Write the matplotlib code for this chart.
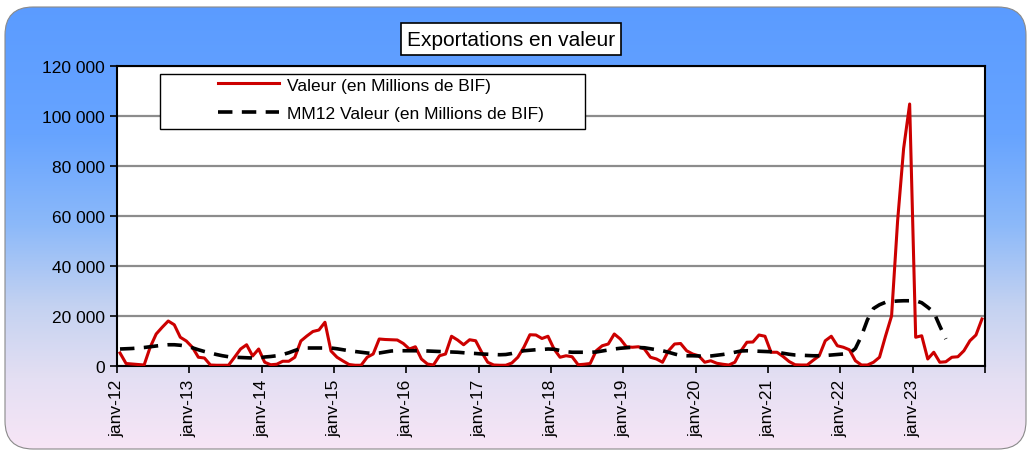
import numpy as np
import matplotlib.pyplot as plt
from matplotlib.patches import FancyBboxPatch, Rectangle
from matplotlib.colors import LinearSegmentedColormap
from matplotlib.ticker import FuncFormatter

plt.rcParams['font.family'] = ['Liberation Sans', 'DejaVu Sans']

# monthly exports, Jan 2012 .. Dec 2023 (millions BIF)
valeur = [
    5200, 1000, 800, 600, 400, 7500, 12800, 15500, 18000, 16500, 11500, 10000,
    7500, 3500, 3200, 400, 300, 300, 300, 3500, 6800, 8500, 4000, 6800,
    1500, 500, 700, 1900, 1900, 3500, 10000, 12000, 13800, 14400, 17500, 6000,
    3500, 2000, 600, 300, 300, 3500, 4800, 10800, 10600, 10500, 10400, 9000,
    6800, 7700, 2800, 800, 400, 4100, 4800, 11900, 10400, 8500, 10500, 10100,
    5500, 1500, 400, 300, 300, 1200, 3500, 7500, 12500, 12400, 11000, 11900,
    6800, 3500, 4100, 3700, 500, 700, 1000, 6100, 8100, 8800, 12800, 10800,
    7700, 7500, 7700, 6800, 3500, 2800, 1500, 6100, 8800, 9000, 6100, 4800,
    4100, 1500, 2100, 1100, 700, 400, 1500, 6000, 9500, 9600, 12400, 11900,
    5500, 5500, 3800, 1800, 500, 400, 400, 2300, 4100, 10100, 11900, 8100,
    7500, 6500, 2100, 400, 400, 1500, 3500, 12000, 20000, 58000, 87000, 104800,
    11500, 12100, 2800, 5500, 1500, 1700, 3500, 3700, 6100, 10100, 12400, 18800,
]

# 12-month moving average as drawn (stops mid-2023)
mm12 = [
    6800, 6900, 7000, 7200, 7400, 7700, 8000, 8300, 8500, 8500, 8300, 7900,
    7300, 6500, 5800, 5200, 4600, 4100, 3700, 3500, 3400, 3300, 3200, 3200,
    3600, 3800, 4100, 4600, 5300, 6200, 7000, 7200, 7200, 7200, 7200, 7200,
    6900, 6500, 6100, 5800, 5500, 5200, 5000, 5200, 5600, 6000, 6100, 6100,
    6100, 6100, 6100, 6000, 5900, 5800, 5700, 5600, 5500, 5300, 5100, 5000,
    4800, 4700, 4600, 4500, 4600, 5000, 5600, 6100, 6300, 6500, 6600, 6800,
    6700, 6200, 5700, 5500, 5500, 5500, 5500, 5600, 6000, 6400, 6800, 7100,
    7300, 7500, 7400, 7300, 6900, 6500, 6100, 5500, 4800, 4200, 4100, 4100,
    4000, 3800, 4000, 4300, 4600, 5000, 5500, 6000, 6100, 6000, 5900, 5800,
    5700, 5500, 5100, 4700, 4400, 4300, 4200, 4100, 4100, 4200, 4400, 4600,
    4800, 5000, 7000, 12000, 18500, 23000, 24500, 25500, 25800, 26000, 26100, 26100,
    26100, 25300, 23500, 21500, 16000, 10800,
]

year_labels = ['janv-12', 'janv-13', 'janv-14', 'janv-15', 'janv-16', 'janv-17',
               'janv-18', 'janv-19', 'janv-20', 'janv-21', 'janv-22', 'janv-23']

W, H = 1031, 452
fig = plt.figure(figsize=(W / 100, H / 100), dpi=100)

# gradient background with rounded corners (blue on top, pale pink at bottom)
bg = fig.add_axes([0, 0, 1, 1], zorder=-10)
cmap = LinearSegmentedColormap.from_list('bg', [
    (0.0, '#5a9bff'), (0.30, '#67a4ff'), (0.50, '#8cb9f9'),
    (0.68, '#c4d2f1'), (0.84, '#e4dff3'), (1.0, '#f8e6f6')])
grad = np.linspace(0, 1, 256).reshape(-1, 1)
im = bg.imshow(grad, cmap=cmap, aspect='auto', extent=(0, W, 0, H),
               origin='upper', vmin=0, vmax=1)
bg.set_xlim(0, W)
bg.set_ylim(0, H)
bg.axis('off')
frame = FancyBboxPatch((5, 2), W - 10, H - 10,
                       boxstyle='round,pad=0,rounding_size=28',
                       facecolor='none', edgecolor='#8a8a8a', lw=0.8)
bg.add_patch(frame)
im.set_clip_path(frame)

ax = fig.add_axes([117 / W, 85 / H, 868 / W, 300 / H])
ax.set_facecolor('white')

x = np.arange(len(valeur)) + 0.5
xm = np.arange(len(mm12)) + 0.5
l1, = ax.plot(x, valeur, color='#cc0000', lw=2.2, label='Valeur (en Millions de BIF)', zorder=3)
l2, = ax.plot(xm, mm12, color='black', lw=2.6, ls=(0, (4, 2.6)),
              label='MM12 Valeur (en Millions de BIF)', zorder=3)

ax.set_xlim(0, 144)
ax.set_ylim(0, 120000)
ax.set_yticks(np.arange(0, 120001, 20000))
ax.yaxis.set_major_formatter(FuncFormatter(lambda v, p: f'{int(v):,}'.replace(',', ' ')))
ax.set_xticks(np.arange(0, 145, 12))
ax.set_xticklabels(year_labels + [''], rotation=90, ha='center', va='top')
ax.grid(axis='y', color='#8c8c8c', lw=1.6)
ax.set_axisbelow(True)
for s in ax.spines.values():
    s.set_color('black')
    s.set_linewidth(1.5)
ax.tick_params(direction='out', length=5, width=1.2, labelsize=12.5, pad=4, colors='black')

# legend
box = Rectangle((0.0495, 0.79), 0.4895, 0.183, transform=ax.transAxes,
                facecolor='white', edgecolor='black', lw=1.0, zorder=4)
ax.add_patch(box)
leg = ax.legend(handles=[l1, l2], loc='upper left', bbox_to_anchor=(0.1164, 0.962),
                frameon=False, fontsize=12.5, borderpad=0, borderaxespad=0,
                handlelength=3.5, handletextpad=0.45, labelspacing=0.75)
leg.set_zorder(5)

fig.text(511 / W, 1 - 40 / H, 'Exportations en valeur', fontsize=15,
         ha='center', va='center',
         bbox=dict(boxstyle='square,pad=0.3', facecolor='white', edgecolor='black', lw=1.2))

fig.savefig('out.png', dpi=100)
